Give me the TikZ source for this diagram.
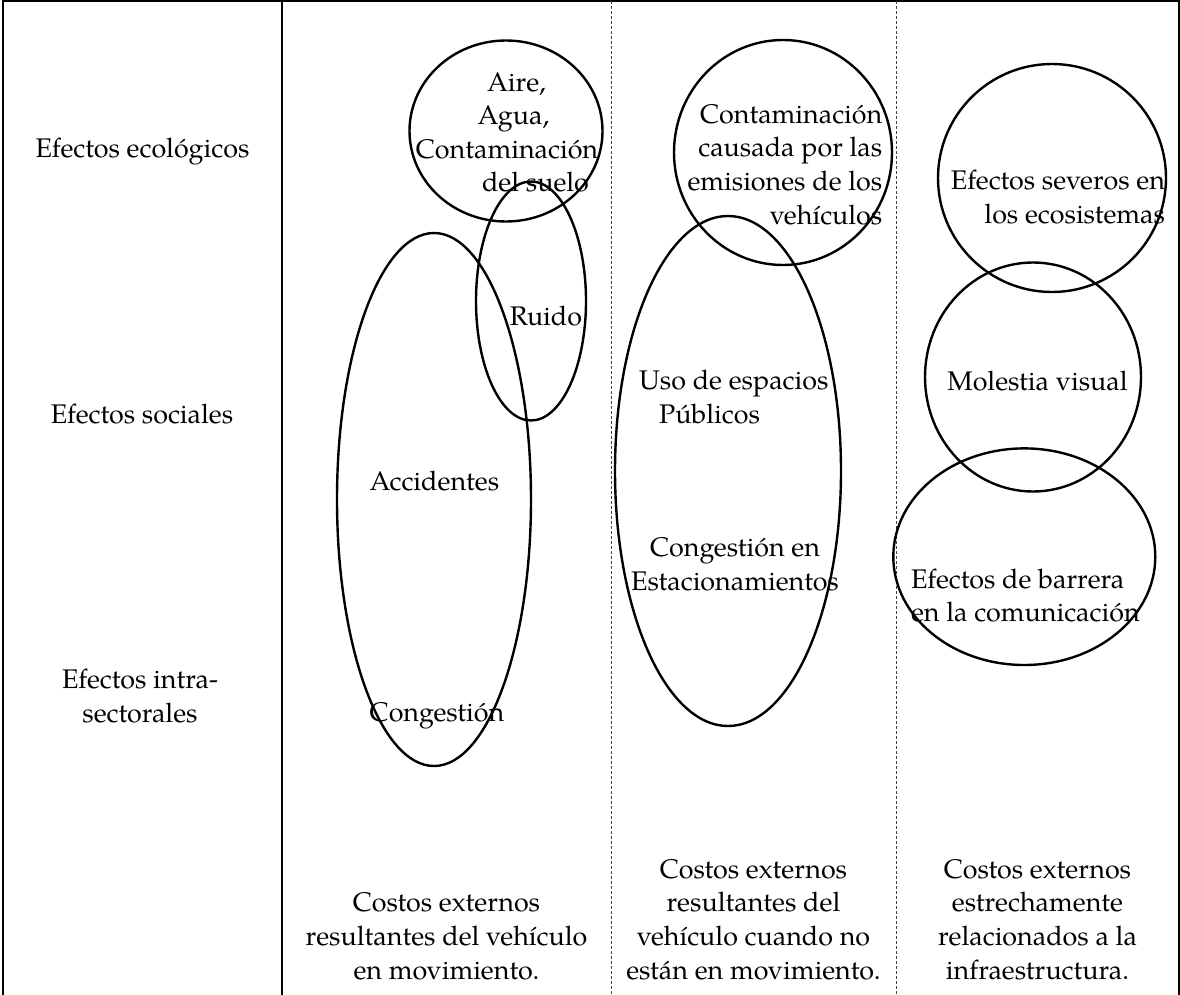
\documentclass[tikz,border=0pt]{standalone}
\usepackage{fontspec}
\setmainfont{TeX Gyre Pagella}
\begin{document}
\begin{tikzpicture}[x=1pt,y=-1pt,
  lbl/.style={inner sep=0pt, outer sep=0pt, font=\fontsize{26.9}{33.6}\selectfont},
  oval/.style={draw, line width=2.4pt},
  framel/.style={line width=1.7pt},
  sepl/.style={line width=0.9pt, dash pattern=on 3pt off 2pt, black!75}]
\useasboundingbox (0,0) rectangle (1180,995);
% frame
\coordinate (tl) at (3,1); \coordinate (tr) at (1179,1);
\coordinate (bl) at (3,995); \coordinate (br) at (1179,995);
\coordinate (s1t) at (282,1); \coordinate (s1b) at (282,995);
\coordinate (d1t) at (611,1); \coordinate (d1b) at (611,995);
\coordinate (d2t) at (896,1); \coordinate (d2b) at (896,995);
\draw[framel] (bl) -- (tl) -- (tr) -- (br);
\draw[framel] (s1t) -- (s1b);
\draw[sepl] (d1t) -- (d1b);
\draw[sepl] (d2t) -- (d2b);
% row labels
\node[lbl, anchor=base] (eco) at (142.5,158) {Efectos ecológicos};
\node[lbl, anchor=base] (soc) at (142,423) {Efectos sociales};
\node[lbl, anchor=base, align=center] (intra) at (140,722) {Efectos intra-\\sectorales};
% column 1
\node[lbl, anchor=base, align=center] (aire) at (507,192) {\hspace*{19pt}Aire,\\\hspace*{13pt}Agua,\\Contaminación\\\hspace*{57pt}del suelo};
\node[lbl, anchor=base] (ruido) at (546,325) {Ruido};
\node[lbl, anchor=base] (acc) at (434.4,490) {Accidentes};
\node[lbl, anchor=base] (cong) at (437,721.7) {Congestión};
% column 2
\node[lbl, anchor=base east, align=right] (contam) at (882.3,224) {Contaminación\\causada por las\\emisiones de los\\vehículos};
\node[lbl, anchor=base west, align=left] (uso) at (639,423) {Uso de espacios\\\hspace*{20pt}Públicos};
\node[lbl, anchor=base, align=center] (estac) at (735,590) {Congestión en\\Estacionamientos};
% column 3
\node[lbl, anchor=base east, align=right] (sev) at (1165,223.3) {Efectos severos en\\los ecosistemas};
\node[lbl, anchor=base] (mol) at (1037.5,390) {Molestia visual};
\node[lbl, anchor=base west, align=left] (barr) at (911,621.7) {Efectos de barrera\\en la comunicación};
% bottom captions
\node[lbl, anchor=base, align=center] (cap1) at (446.5,979) {Costos externos\\resultantes del vehículo\\en movimiento.};
\node[lbl, anchor=base, align=center] (cap2) at (753.5,979) {Costos externos\\resultantes del\\vehículo cuando no\\están en movimiento.};
\node[lbl, anchor=base, align=center] (cap3) at (1037.5,979) {Costos externos\\estrechamente\\relacionados a la\\infraestructura.};
% ellipses
\draw[oval] (506,131) ellipse [x radius=96.5pt, y radius=90.5pt];
\draw[oval] (531,301) ellipse [x radius=55pt, y radius=119.5pt];
\draw[oval] (434,499.5) ellipse [x radius=97pt, y radius=266.5pt];
\draw[oval] (783,152.5) ellipse [x radius=109pt, y radius=112.5pt];
\draw[oval] (728,471) ellipse [x radius=113pt, y radius=255pt];
\draw[oval] (1052,178) ellipse [x radius=114pt, y radius=114pt];
\draw[oval] (1033,377) ellipse [x radius=108pt, y radius=114.5pt];
\draw[oval] (1024.3,556.7) ellipse [x radius=131pt, y radius=108.3pt];
\end{tikzpicture}
\end{document}
